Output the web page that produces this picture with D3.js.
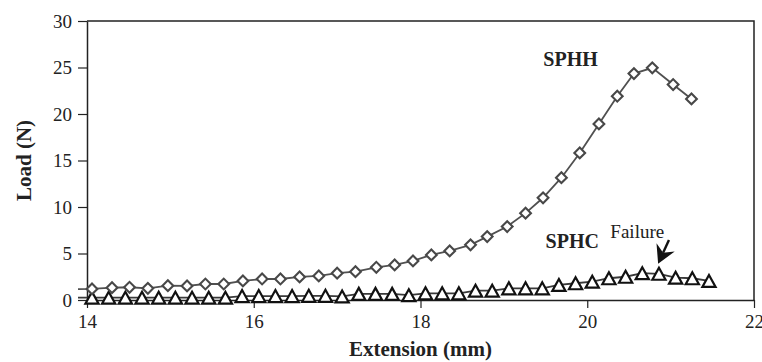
<!DOCTYPE html>
<html>
<head>
<meta charset="utf-8">
<script src="https://cdn.jsdelivr.net/npm/d3@7"></script>
<style>
  body { margin: 0; background: #fff; }
  svg, svg text { font-family: "Liberation Serif", "Times New Roman", serif; }
</style>
</head>
<body>
<div id="chart"></div>
<script>
// ---- Data
const sphhX = [13.84, 14.06, 14.30, 14.51, 14.73, 14.97, 15.20, 15.42, 15.64, 15.87, 16.10, 16.32, 16.55,
  16.78, 17.00, 17.22, 17.47, 17.69, 17.91, 18.13, 18.35, 18.60, 18.80, 19.04, 19.26, 19.47,
  19.69, 19.91, 20.14, 20.36, 20.56, 20.78, 21.03, 21.25];
const sphhLoad = [1.15, 1.19, 1.33, 1.37, 1.26, 1.54, 1.51, 1.72, 1.72, 2.05, 2.26, 2.26, 2.48,
  2.59, 2.88, 3.05, 3.52, 3.77, 4.2, 4.85, 5.28, 5.93, 6.82, 7.9, 9.34, 10.99,
  13.15, 15.81, 18.93, 21.91, 24.35, 24.97, 23.17, 21.62];

const sphcX = [13.86, 14.06, 14.26, 14.46, 14.66, 14.86, 15.06, 15.26, 15.46, 15.66, 15.86, 16.06, 16.26,
  16.46, 16.66, 16.86, 17.06, 17.26, 17.46, 17.66, 17.86, 18.06, 18.26, 18.46, 18.66,
  18.86, 19.06, 19.26, 19.46, 19.66, 19.86, 20.06, 20.26, 20.46, 20.66, 20.86, 21.06, 21.26, 21.46];
const sphcLoad = [0.25, 0.25, 0.25, 0.25, 0.25, 0.25, 0.25, 0.25, 0.25, 0.25, 0.42, 0.42, 0.42,
  0.42, 0.45, 0.45, 0.38, 0.66, 0.66, 0.66, 0.52, 0.72, 0.72, 0.72, 1.0,
  1.0, 1.26, 1.26, 1.26, 1.62, 1.8, 1.97, 2.34, 2.5, 2.88, 2.82, 2.4, 2.34, 2.05];

const xTicks = [14, 16, 18, 20, 22];
const yTicks = [0, 5, 10, 15, 20, 25, 30];

const seriesLabels = [
  { text: 'SPHH', x: 19.8, y: 25.2, bold: true },
  { text: 'SPHC', x: 19.82, y: 5.6, bold: true },
  { text: 'Failure', x: 20.6, y: 6.68, bold: false }
];
// failure arrow: from (x0, y0) to the tip (x1, y1), in data units
const failureArrow = { x0: 20.98, y0: 6.45, x1: 20.85, y1: 3.9 };

// ---- Chart size
const W = 762, H = 362;
const margins = { left: 87, right: 8, top: 21, bottom: 62 };

const svg = d3.select('#chart').append('svg')
  .attr('width', W).attr('height', H);

const mapX = d3.scaleLinear().domain([14, 22]).range([margins.left, W - margins.right]);
const mapY = d3.scaleLinear().domain([0, 30]).range([H - margins.bottom, margins.top]);

const ink = '#222';

// ---- Frame (top and right border)
svg.append('path')
  .attr('d', `M${mapX(14)},${mapY(30)}H${mapX(22)}V${mapY(0)}`)
  .attr('fill', 'none').attr('stroke', ink).attr('stroke-width', 1.5);

// ---- Axes
const xAxis = svg.append('g')
  .attr('transform', `translate(0,${mapY(0)})`)
  .call(d3.axisBottom(mapX).tickValues(xTicks).tickFormat(d3.format('d')).tickSize(8).tickSizeOuter(0).tickPadding(7));
const yAxis = svg.append('g')
  .attr('transform', `translate(${mapX(14)},0)`)
  .call(d3.axisLeft(mapY).tickValues(yTicks).tickSize(9).tickSizeOuter(0).tickPadding(6));

[xAxis, yAxis].forEach(ax => {
  ax.attr('font-family', null).attr('font-size', null);
  ax.select('.domain').attr('stroke', ink).attr('stroke-width', 1.5);
  ax.selectAll('.tick line').attr('stroke', ink).attr('stroke-width', 1.2);
  ax.selectAll('.tick text')
    .attr('fill', ink)
    .style('font-size', '19px');
});

// ---- Axis titles
svg.append('text')
  .attr('x', (mapX(14) + mapX(22)) / 2).attr('y', 356)
  .attr('text-anchor', 'middle').attr('fill', ink)
  .style('font-size', '21px').style('font-weight', 'bold')
  .text('Extension (mm)');
svg.append('text')
  .attr('transform', `translate(31,${(mapY(0) + mapY(30)) / 2}) rotate(-90)`)
  .attr('text-anchor', 'middle').attr('fill', ink)
  .style('font-size', '21px').style('font-weight', 'bold')
  .text('Load (N)');

// ---- Lines (clipped a little left of the axis, as in the original)
svg.append('clipPath').attr('id', 'plotClip')
  .append('rect')
  .attr('x', mapX(14) - 9).attr('y', mapY(30))
  .attr('width', mapX(22) - mapX(14) + 9).attr('height', mapY(0) - mapY(30));

const sphh = sphhX.map((x, i) => ({ x, y: sphhLoad[i] }));
const sphc = sphcX.map((x, i) => ({ x, y: sphcLoad[i] }));

const line = d3.line().x(d => mapX(d.x)).y(d => mapY(d.y));

const lineGroup = svg.append('g').attr('clip-path', 'url(#plotClip)');
lineGroup.append('path').datum(sphc)
  .attr('d', line).attr('fill', 'none')
  .attr('stroke', '#3a3a3a').attr('stroke-width', 1.8);
lineGroup.append('path').datum(sphh)
  .attr('d', line).attr('fill', 'none')
  .attr('stroke', '#505050').attr('stroke-width', 1.8);

// ---- Markers
const triangle = {
  draw(ctx, size) {
    const h = Math.sqrt(size);
    ctx.moveTo(0, -h / 2);
    ctx.lineTo(h * 0.55, h / 2);
    ctx.lineTo(-h * 0.55, h / 2);
    ctx.closePath();
  }
};

svg.append('g').selectAll('path')
  .data(sphc.filter(d => d.x >= 14))
  .join('path')
  .attr('transform', d => `translate(${mapX(d.x)},${mapY(d.y)})`)
  .attr('d', d3.symbol(triangle, 144))
  .attr('fill', '#fff').attr('stroke', '#111').attr('stroke-width', 2.2)
  .attr('stroke-linejoin', 'miter');

svg.append('g').selectAll('path')
  .data(sphh.filter(d => d.x >= 14))
  .join('path')
  .attr('transform', d => `translate(${mapX(d.x)},${mapY(d.y)}) rotate(45)`)
  .attr('d', d3.symbol(d3.symbolSquare, 58))
  .attr('fill', '#fff').attr('stroke', '#484848').attr('stroke-width', 2.1);

// ---- Annotations
svg.append('g').selectAll('text')
  .data(seriesLabels)
  .join('text')
  .attr('x', d => mapX(d.x)).attr('y', d => mapY(d.y))
  .attr('text-anchor', 'middle').attr('fill', ink)
  .style('font-size', d => d.bold ? '20px' : '19px')
  .style('font-weight', d => d.bold ? 'bold' : 'normal')
  .text(d => d.text);

// ---- Failure arrow (shaft + notched head drawn at the tip)
const ax0 = mapX(failureArrow.x0), ay0 = mapY(failureArrow.y0);
const ax1 = mapX(failureArrow.x1), ay1 = mapY(failureArrow.y1);
const angle = Math.atan2(ay1 - ay0, ax1 - ax0) * 180 / Math.PI;
const arrow = svg.append('g')
  .attr('transform', `translate(${ax1},${ay1}) rotate(${angle})`);
arrow.append('line')
  .attr('x1', -Math.hypot(ax1 - ax0, ay1 - ay0)).attr('y1', 0)
  .attr('x2', -12).attr('y2', 0)
  .attr('stroke', '#111').attr('stroke-width', 2.4);
arrow.append('path')
  .attr('d', 'M0,0L-18,-10L-12,0L-18,10Z')
  .attr('fill', '#111');
</script>
</body>
</html>
